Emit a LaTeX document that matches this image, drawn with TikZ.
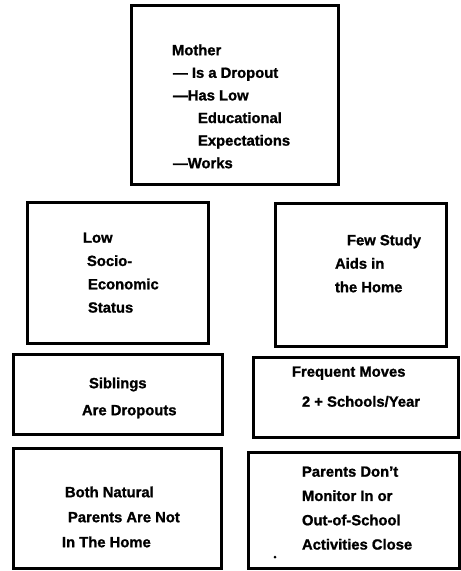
\documentclass[tikz,border=0pt]{standalone}
\usepackage{fontspec}
\setmainfont{Liberation Sans}[BoldFeatures={FakeBold=1.2}]
\begin{document}
\begin{tikzpicture}[x=1pt,y=-1pt,
  box/.style={draw=black, line width=3pt, rectangle, inner sep=0pt, outer sep=0pt},
  txt/.style={anchor=north west, inner sep=0pt, outer sep=0pt, align=left,
    font={\bfseries\fontsize{14.8}{#1}\selectfont}},
  txt/.default=23]
\useasboundingbox (0,0) rectangle (461,571);
% boxes
\node[box, minimum width=207pt, minimum height=179pt] (mother) at (234.5,94.5) {};
\node[box, minimum width=181pt, minimum height=141pt] (low) at (117.5,272.5) {};
\node[box, minimum width=171pt, minimum height=143pt] (few) at (360.5,274.5) {};
\node[box, minimum width=209pt, minimum height=80pt] (sib) at (117.5,394) {};
\node[box, minimum width=205pt, minimum height=80pt] (freq) at (355.5,397) {};
\node[box, minimum width=208pt, minimum height=120pt] (both) at (117,508) {};
\node[box, minimum width=211pt, minimum height=116pt] (par) at (353.5,510) {};
% texts
\node[txt=22.6] (mothertxt) at (172,44.5) {Mother\\
  \hspace*{1pt}— Is a Dropout\\
  \hspace*{1pt}—Has Low\\
  \hspace*{26pt}Educational\\
  \hspace*{26pt}Expectations\\
  \hspace*{1pt}—Works};
\node[txt=23.3] (lowtxt) at (83,232.5) {Low\\
  \hspace*{4pt}Socio-\\
  \hspace*{5pt}Economic\\
  \hspace*{5pt}Status};
\node[txt=23.5] (fewtxt) at (335,234.5) {\hspace*{12pt}Few Study\\
  Aids in\\
  the Home};
\node[txt=27] (sibtxt) at (82,377.5) {\hspace*{7pt}Siblings\\
  Are Dropouts};
\node[txt=30] (freqtxt) at (292,366.5) {Frequent Moves\\
  \hspace*{10pt}2 + Schools/Year};
\node[txt=25] (bothtxt) at (62,486.5) {\hspace*{3pt}Both Natural\\
  \hspace*{6pt}Parents Are Not\\
  In The Home};
\node[txt=24.3] (partxt) at (302,466.5) {Parents Don't\\
  Monitor In or\\
  Out-of-School\\
  Activities Close};
\node[circle, fill=black, inner sep=0pt, minimum size=3pt] (dot) at (275,557) {};
\end{tikzpicture}
\end{document}
